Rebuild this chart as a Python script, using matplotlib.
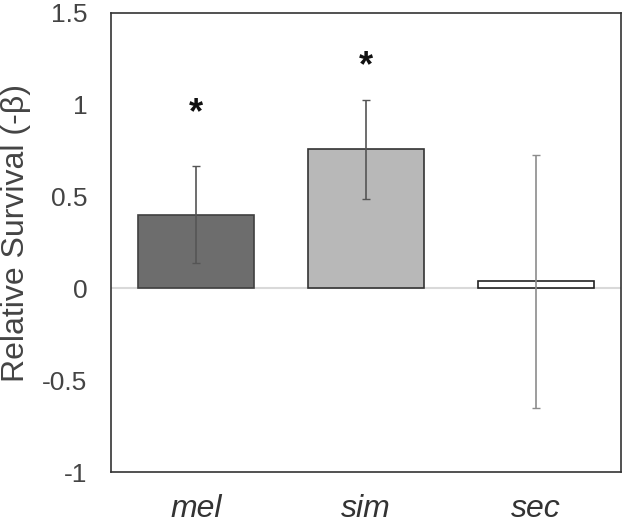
import matplotlib
matplotlib.use("Agg")
import matplotlib.pyplot as plt

species = ["mel", "sim", "sec"]
survival = [0.40, 0.758, 0.038]
err = [0.264, 0.27, 0.687]
fills = ["#6d6d6d", "#b8b8b8", "#ffffff"]
edges = ["#404040", "#333333", "#222222"]
err_cols = ["#555555", "#555555", "#8c8c8c"]
stars = ["*", "*", ""]
star_y = [0.95, 1.21, 0]

plt.rcParams['font.family'] = ['Liberation Sans', 'DejaVu Sans']

fig = plt.figure(figsize=(6.41, 5.24), dpi=100)
ax = fig.add_axes([0.173, 0.0992, 0.796, 0.876])

ax.axhline(0, color="#d9d9d9", lw=1.5, zorder=1)
x = range(len(species))
ax.bar(x, survival, width=0.68, color=fills, edgecolor=edges, linewidth=1.2, zorder=2)
for i in x:
    ax.errorbar(i, survival[i], yerr=err[i], fmt="none", ecolor=err_cols[i],
                elinewidth=1.2, capsize=3, capthick=1.0, zorder=3)
    if stars[i]:
        ax.text(i, star_y[i], stars[i], ha="center", va="center", fontsize=26,
                fontweight="bold", color="#111111")

ax.set_xlim(-0.5, 2.5)
ax.set_ylim(-1, 1.5)
ax.set_yticks([-1, -0.5, 0, 0.5, 1, 1.5])
ax.set_yticklabels(["-1", "-0.5", "0", "0.5", "1", "1.5"])
ax.set_xticks(list(x))
ax.set_xticklabels(species, fontstyle="italic", fontsize=23, color="#333333")
ax.tick_params(axis="y", length=0, pad=17, labelsize=19, labelcolor="#444444")
ax.tick_params(axis="x", length=0, pad=16)
ax.set_ylabel("Relative Survival (-β)", fontsize=23, color="#444444")
ax.yaxis.set_label_coords(-0.157, 0.52)
for s in ax.spines.values():
    s.set_color("#333333")
    s.set_linewidth(1.2)

fig.savefig("out.png", dpi=100)
